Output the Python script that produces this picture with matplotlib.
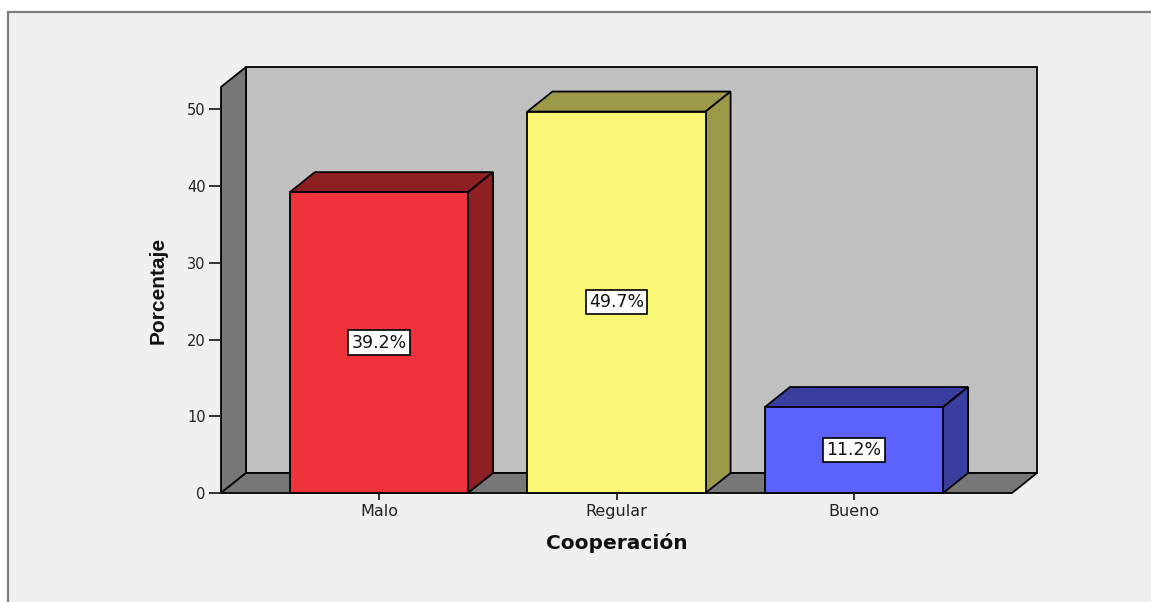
import matplotlib
matplotlib.use('Agg')
import matplotlib.pyplot as plt
from matplotlib.patches import Polygon, Rectangle
from matplotlib.transforms import IdentityTransform

categorias = ['Malo', 'Regular', 'Bueno']
porcentajes = [39.2, 49.7, 11.2]
etiquetas = ['39.2%', '49.7%', '11.2%']
marcas_y = [0, 10, 20, 30, 40, 50]

color_frente = ['#F0323A', '#FAF675', '#5B62FE']
color_lado = ['#8E1F23', '#9C9A48', '#3A3E9E']

plt.rcParams['font.family'] = ['DejaVu Sans']

# profundidad del efecto 3D, en pixeles
DX, DY = 25, 20
X_MIN, X_MAX = -0.665, 2.665
Y_MAX = 52.9
ANCHO = 0.75

fig = plt.figure(figsize=(11.51, 6.02), dpi=100)
fig.patch.set_facecolor('white')
fig.add_artist(Rectangle((8 / 1151, -0.05), 1.2, 1 - 12 / 602 + 0.05,
                         transform=fig.transFigure, fc='#F0F0F0', ec='#7F7F7F',
                         lw=1.6, zorder=-10))

ax = fig.add_axes([221 / 1151, 109 / 602, 791 / 1151, 406 / 602])
ax.set_zorder(5)
ax.set_xlim(X_MIN, X_MAX)
ax.set_ylim(0, Y_MAX)
ax.patch.set_visible(False)
for s in ax.spines.values():
    s.set_visible(False)


def cara(puntos, color, z):
    # puntos: (x, y, fondo) con fondo=1 para los vertices desplazados hacia atras
    disp = []
    for x, y, p in puntos:
        px, py = ax.transData.transform((x, y))
        disp.append((px + p * DX, py + p * DY))
    ax.add_patch(Polygon(disp, closed=True, transform=IdentityTransform(),
                         fc=color, ec='black', lw=1.3, zorder=z, clip_on=False))


# paredes y piso
cara([(X_MIN, 0, 1), (X_MAX, 0, 1), (X_MAX, Y_MAX, 1), (X_MIN, Y_MAX, 1)], '#C0C0C0', 1)
cara([(X_MIN, 0, 0), (X_MIN, Y_MAX, 0), (X_MIN, Y_MAX, 1), (X_MIN, 0, 1)], '#777777', 1)
cara([(X_MIN, 0, 0), (X_MAX, 0, 0), (X_MAX, 0, 1), (X_MIN, 0, 1)], '#777777', 1)

x = list(range(len(categorias)))
for i, h in enumerate(porcentajes):
    x0, x1 = i - ANCHO / 2, i + ANCHO / 2
    cara([(x0, h, 0), (x1, h, 0), (x1, h, 1), (x0, h, 1)], color_lado[i], 2)
    cara([(x1, 0, 0), (x1, h, 0), (x1, h, 1), (x1, 0, 1)], color_lado[i], 2)

ax.bar(x, porcentajes, width=ANCHO, color=color_frente, edgecolor='black',
       linewidth=1.3, zorder=3, clip_on=False)

for i, h in enumerate(porcentajes):
    ax.text(i, h / 2, etiquetas[i], ha='center', va='center', fontsize=12.5,
            color='#111111', zorder=4,
            bbox=dict(boxstyle='square,pad=0.18', fc='white', ec='black', lw=1.2))

ax.set_yticks(marcas_y)
ax.set_xticks(x)
ax.set_xticklabels(categorias)
ax.tick_params(axis='y', direction='out', length=9, width=1.3, pad=2,
               labelsize=10.5, colors='#222222')
ax.tick_params(axis='x', direction='out', length=5, width=1.3, pad=3,
               labelsize=11.5, colors='#222222')

ax.set_xlabel('Cooperación', fontsize=14.5, fontweight='bold',
              labelpad=10, color='#111111')
ax.set_ylabel('Porcentaje', fontsize=15, fontweight='bold',
              family=['Liberation Sans', 'DejaVu Sans'],
              labelpad=14, color='#111111')

fig.savefig('out.png', dpi=100, facecolor=fig.get_facecolor())
